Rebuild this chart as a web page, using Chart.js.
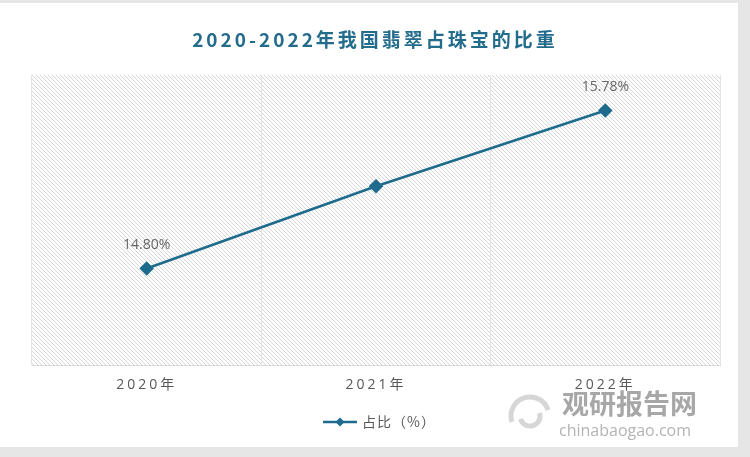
<!DOCTYPE html>
<html>
<head>
<meta charset="utf-8">
<script src="https://cdn.jsdelivr.net/npm/chart.js@4/dist/chart.umd.min.js"></script>
<style>
  body { margin: 0; background: #e6e6e6; width: 750px; height: 457px; overflow: hidden; }
  #card { position: absolute; left: 0; top: 3px; width: 738px; height: 444px; background: #fff; }
</style>
</head>
<body>
<div id="card"><canvas id="grafico" width="738" height="444"></canvas></div>
<script>
// dados do gráfico
var titulo = '2020-2022年我国翡翠占珠宝的比重';
var serie = '占比（%）';
var anos = ['2020年', '2021年', '2022年'];
var percentual = [14.80, 15.31, 15.78];
var rotulos = ['14.80%', '', '15.78%'];

var corLinha = '#1f6b8e';

// padrão hachurado do fundo
function criaHachura() {
    var c = document.createElement('canvas');
    c.width = 4; c.height = 4;
    var g = c.getContext('2d');
    g.fillStyle = '#ffffff';
    g.fillRect(0, 0, 4, 4);
    g.strokeStyle = '#d6d6d6';
    g.lineWidth = 1;
    g.beginPath();
    g.moveTo(-1, -1); g.lineTo(5, 5);
    g.moveTo(-1, 3); g.lineTo(1, 5);
    g.moveTo(3, -1); g.lineTo(5, 1);
    g.stroke();
    return g.createPattern(c, 'repeat');
}

var fundo = {
    id: 'fundo',
    beforeDraw: function(chart) {
        var a = chart.chartArea, ctx = chart.ctx;
        ctx.save();
        ctx.fillStyle = criaHachura();
        ctx.fillRect(a.left, a.top, a.right - a.left, a.bottom - a.top);
        ctx.restore();
        // espaçamento das letras dos rótulos do eixo
        ctx.letterSpacing = '3px';
    },
    afterDraw: function(chart) {
        chart.ctx.letterSpacing = '0px';
    }
};

// título, legenda e rótulos dos pontos
var textos = {
    id: 'textos',
    afterDatasetsDraw: function(chart) {
        var ctx = chart.ctx;
        var pts = chart.getDatasetMeta(0).data;
        ctx.save();
        ctx.letterSpacing = '0px';
        ctx.font = '14px "Open Sans", "Noto Sans CJK SC", sans-serif';
        ctx.fillStyle = '#666666';
        ctx.textAlign = 'center';
        ctx.textBaseline = 'middle';
        pts.forEach(function(p, i) {
            if (rotulos[i]) ctx.fillText(rotulos[i], p.x, p.y - 23);
        });

        // título
        ctx.letterSpacing = '3px';
        ctx.font = 'bold 19px "Noto Sans CJK SC", sans-serif';
        ctx.fillStyle = '#236c8c';
        ctx.fillText(titulo, chart.width / 2 + 6, 37);

        // legenda
        var lx = 323, ly = 419;
        ctx.strokeStyle = corLinha;
        ctx.lineWidth = 2.5;
        ctx.beginPath();
        ctx.moveTo(lx, ly); ctx.lineTo(lx + 34, ly);
        ctx.stroke();
        ctx.fillStyle = corLinha;
        ctx.beginPath();
        ctx.moveTo(lx + 17, ly - 4.5); ctx.lineTo(lx + 21.5, ly);
        ctx.lineTo(lx + 17, ly + 4.5); ctx.lineTo(lx + 12.5, ly);
        ctx.closePath(); ctx.fill();
        ctx.letterSpacing = '1px';
        ctx.font = '14px "Noto Sans CJK SC", sans-serif';
        ctx.fillStyle = '#595959';
        ctx.textAlign = 'left';
        ctx.fillText(serie, lx + 39, ly);
        ctx.restore();
    }
};

// marca d'água
var marca = {
    id: 'marca',
    afterDraw: function(chart) {
        var ctx = chart.ctx;
        ctx.save();
        ctx.letterSpacing = '0px';
        ctx.globalAlpha = 0.75;
        ctx.strokeStyle = '#c8c8c8';
        ctx.lineWidth = 5;
        ctx.beginPath();
        ctx.arc(530, 413, 19, Math.PI * 0.9, Math.PI * 1.9);
        ctx.stroke();
        ctx.beginPath();
        ctx.arc(530, 413, 10, Math.PI * 1.9, Math.PI * 0.9);
        ctx.stroke();
        ctx.fillStyle = '#8a8a8a';
        ctx.font = 'bold 27px "Noto Sans CJK SC", sans-serif';
        ctx.textBaseline = 'middle';
        ctx.fillText('观研报告网', 562, 401);
        ctx.font = '16px "Open Sans", sans-serif';
        ctx.fillStyle = '#9a9a9a';
        ctx.fillText('chinabaogao.com', 559, 428);
        ctx.restore();
    }
};

new Chart(document.getElementById('grafico'), {
    type: 'line',
    data: {
        labels: anos,
        datasets: [{
            label: serie,
            data: percentual,
            borderColor: corLinha,
            backgroundColor: corLinha,
            borderWidth: 2.5,
            pointStyle: 'rectRot',
            pointRadius: 5.5,
            pointHoverRadius: 5.5,
            tension: 0
        }]
    },
    options: {
        responsive: false,
        animation: false,
        layout: { padding: { left: 32, right: 18, top: 72, bottom: 43 } },
        plugins: {
            title: { display: false },
            legend: { display: false },
            tooltip: { enabled: false }
        },
        scales: {
            x: {
                offset: true,
                grid: { display: true, color: '#e3e3e3', offset: true, drawTicks: false },
                border: { color: '#d9d9d9' },
                ticks: {
                    color: '#595959',
                    padding: 11,
                    font: { size: 14, family: '"Open Sans", "Noto Sans CJK SC", sans-serif' }
                }
            },
            y: {
                display: false,
                min: 14.2,
                max: 16.0
            }
        }
    },
    plugins: [fundo, textos, marca]
});
</script>
</body>
</html>
